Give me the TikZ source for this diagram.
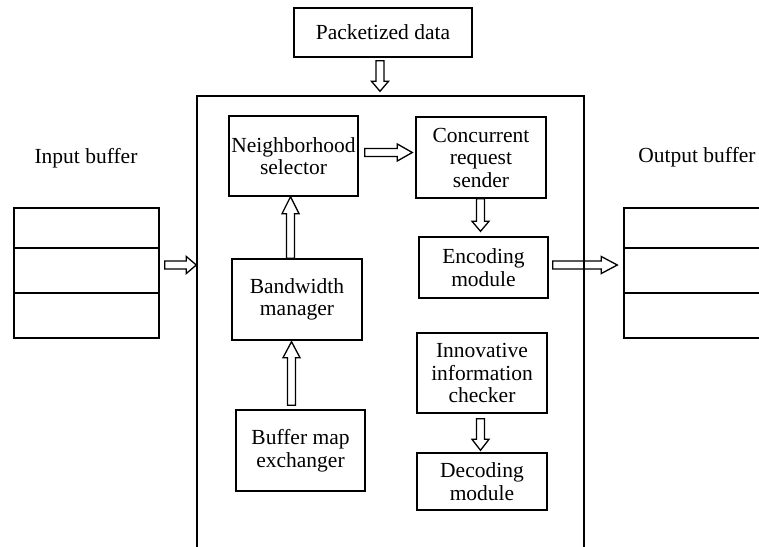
\documentclass[tikz,border=0pt]{standalone}
\usepackage{fontspec}
\setmainfont{Liberation Serif}
\usetikzlibrary{calc}
\tikzset{
  txt/.style={font=\fontsize{21.5}{22.5}\selectfont},
  box/.style={draw, line width=1.4pt, align=center, inner sep=0pt, txt},
  frame/.style={draw, line width=1.4pt, inner sep=0pt},
  flow/.style={line width=1.3pt, line join=miter},
  harrow/.style={to path={
    ($(\tikztostart)!4pt!90:(\tikztotarget)$)
    -- ($(\tikztotarget)!#1!(\tikztostart)!4pt!-90:(\tikztostart)$)
    -- ($(\tikztotarget)!#1!(\tikztostart)!8.5pt!-90:(\tikztostart)$)
    -- (\tikztotarget)
    -- ($(\tikztotarget)!#1!(\tikztostart)!8.5pt!90:(\tikztostart)$)
    -- ($(\tikztotarget)!#1!(\tikztostart)!4pt!90:(\tikztostart)$)
    -- ($(\tikztostart)!4pt!-90:(\tikztotarget)$)
    -- cycle}},
  harrow/.default=12pt
}
\begin{document}
\begin{tikzpicture}[x=1pt,y=-1pt]
\useasboundingbox (0,0) rectangle (759,546);
% big frame (bottom edge lies below the page)
\node[frame, minimum width=387pt, minimum height=464pt] (core) at (390.5,328) {};
% boxes
\node[box, minimum width=178pt, minimum height=49pt] (pkt) at (383,32.5) {Packetized data};
\node[box, minimum width=129pt, minimum height=80pt] (nbr) at (293.5,156) {Neighborhood\\selector};
\node[box, minimum width=130pt, minimum height=81pt] (crs) at (481,157.5) {Concurrent\\request\\sender};
\node[box, minimum width=129pt, minimum height=61pt] (enc) at (483.5,267.5) {Encoding\\module};
\node[box, minimum width=130pt, minimum height=81pt] (bwm) at (297,299.5) {Bandwidth\\manager};
\node[box, minimum width=129pt, minimum height=81pt] (bme) at (300.5,450.5) {Buffer map\\exchanger};
\node[box, minimum width=130pt, minimum height=80pt] (inn) at (482,373) {Innovative\\information\\checker};
\node[box, minimum width=130pt, minimum height=57pt] (dec) at (482,481.5) {Decoding\\module};
% buffers
\node[txt, inner sep=0pt] (inlbl) at (86,158) {Input buffer};
\node[txt, inner sep=0pt] (outlbl) at (697,157) {Output buffer};
\node[frame, minimum width=145pt, minimum height=130pt] (inbuf) at (86.5,273) {};
\node[frame, minimum width=146pt, minimum height=130pt] (outbuf) at (697,273) {};
\draw[line width=1.4pt] (inbuf.west |- 0,248) -- (inbuf.east |- 0,248);
\draw[line width=1.4pt] (inbuf.west |- 0,293) -- (inbuf.east |- 0,293);
\draw[line width=1.4pt] (outbuf.west |- 0,248) -- (outbuf.east |- 0,248);
\draw[line width=1.4pt] (outbuf.west |- 0,293) -- (outbuf.east |- 0,293);
% hollow arrows
\draw[flow] ([xshift=-3pt,yshift=-3pt]pkt.south) to[harrow=10pt] ([xshift=-10.5pt,yshift=4pt]core.north);
\draw[flow] ([xshift=5pt,yshift=8pt]inbuf.east) to[harrow=10pt] ([yshift=63pt]core.west);
\draw[flow] ([xshift=6pt,yshift=3.5pt]nbr.east) to[harrow=15pt] ([xshift=-3pt,yshift=5pt]crs.west);
\draw[flow] ([xshift=-0.5pt]crs.south) to[harrow=10pt] ([xshift=-3pt,yshift=5pt]enc.north);
\draw[flow] ([xshift=4pt,yshift=2.5pt]enc.east) to[harrow=16pt] ([xshift=-6pt,yshift=8pt]outbuf.west);
\draw[flow] ([xshift=-6.5pt]bwm.north) to[harrow=17pt] ([xshift=-3pt]nbr.south);
\draw[flow] ([xshift=-9pt,yshift=4pt]bme.north) to[harrow=16pt] ([xshift=-5.5pt,yshift=-1pt]bwm.south);
\draw[flow] ([xshift=-1.5pt,yshift=-5pt]inn.south) to[harrow=11pt] ([xshift=-1.5pt,yshift=2pt]dec.north);
\end{tikzpicture}
\end{document}
